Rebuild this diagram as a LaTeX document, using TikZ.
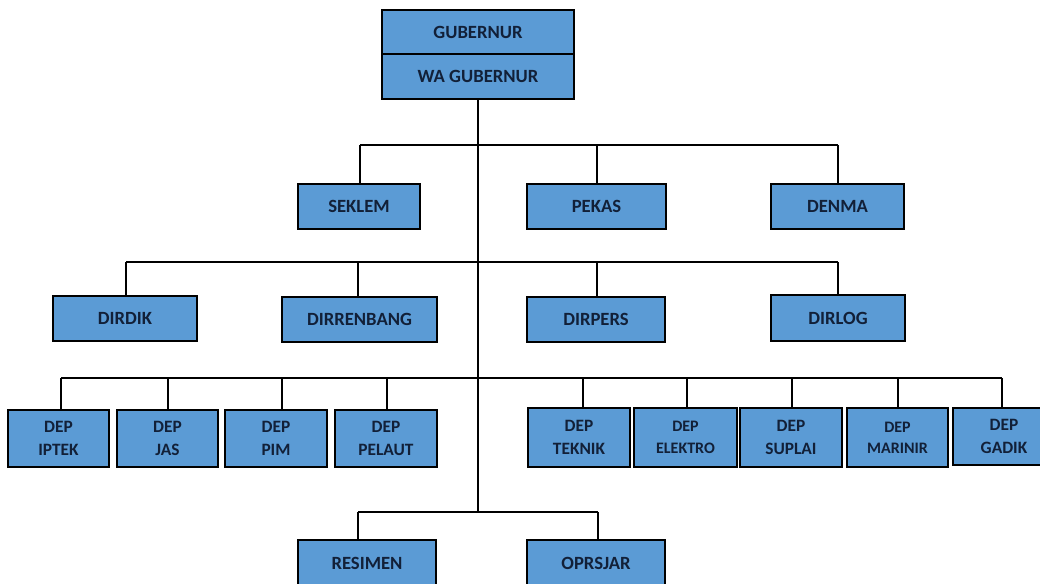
\documentclass[tikz,border=0pt]{standalone}
\usepackage{fontspec}
\setmainfont{Carlito}
\definecolor{boxblue}{RGB}{91,155,213}
\definecolor{txtnavy}{RGB}{18,32,56}
\tikzset{
  orgbox/.style={draw=black, line width=1.5pt, fill=boxblue, inner sep=0pt,
    text=txtnavy, font=\fontsize{14}{17}\selectfont\bfseries, align=center},
  deptxt/.style={font=\fontsize{13}{17}\selectfont\bfseries},
  smalltxt/.style={font=\fontsize{12}{16}\selectfont\bfseries},
  link/.style={draw=black, line width=1.5pt}
}
% \obox[style]{name}{x1}{y1}{x2}{y2}{text}
\newcommand\obox[7][]{%
  \node[orgbox, #1, minimum width={(#5-#3)*0.75pt}, minimum height={(#6-#4)*0.75pt}]
    (#2) at ({(#3+#5)/2},{(#4+#6)/2}) {#7};}
\begin{document}
\begin{tikzpicture}[x=0.75pt,y=-0.75pt]
\useasboundingbox (0,0) rectangle (1040,583);
\fill[white] (0,0) rectangle (1040,583);
% top
\obox{gub}{382}{10}{574}{54}{GUBERNUR}
\obox{wagub}{382}{54}{574}{99}{WA GUBERNUR}
% level 1
\obox{seklem}{298}{184}{420}{229}{SEKLEM}
\obox{pekas}{527}{184}{666}{229}{PEKAS}
\obox{denma}{771}{184}{904}{229}{DENMA}
% level 2
\obox{dirdik}{53}{296}{197}{341}{DIRDIK}
\obox{dirrenbang}{282}{297}{437}{342}{DIRRENBANG}
\obox{dirpers}{527}{297}{665}{342}{DIRPERS}
\obox{dirlog}{771}{295}{905}{341}{DIRLOG}
% level 3
\obox[deptxt]{iptek}{8}{410}{109}{467}{DEP\\IPTEK}
\obox[deptxt]{jas}{117}{410}{218}{467}{DEP\\JAS}
\obox[deptxt]{pim}{225}{410}{327}{467}{DEP\\PIM}
\obox[deptxt]{pelaut}{335}{410}{437}{467}{DEP\\PELAUT}
\obox[deptxt]{teknik}{528}{408}{630}{467}{DEP\\TEKNIK}
\obox[smalltxt]{elektro}{634}{408}{737}{467}{DEP\\ELEKTRO}
\obox[deptxt]{suplai}{740}{408}{842}{467}{DEP\\SUPLAI}
\obox[smalltxt]{marinir}{847}{408}{948}{467}{DEP\\MARINIR}
\obox[deptxt]{gadik}{953}{408}{1055}{465}{DEP\\GADIK}
% level 4 (boxes run past the bottom edge)
\obox{resimen}{298}{540}{436}{586}{RESIMEN}
\obox{oprsjar}{527}{540}{665}{586}{OPRSJAR}
% junction coordinates
\coordinate (trunk) at (478,512);
\coordinate (a1) at (360,145); \coordinate (a2) at (597,145); \coordinate (a3) at (838,145);
\coordinate (b1) at (126,262); \coordinate (b2) at (358,262); \coordinate (b3) at (597,262); \coordinate (b4) at (838,262);
\coordinate (c1) at (61,378); \coordinate (c2) at (168,378); \coordinate (c3) at (282,378); \coordinate (c4) at (387,378);
\coordinate (c5) at (583,378); \coordinate (c6) at (687,378); \coordinate (c7) at (792,378); \coordinate (c8) at (898,378); \coordinate (c9) at (1002,378);
\coordinate (d1) at (358,512); \coordinate (d2) at (598,512);
% connectors
\draw[link] (wagub.south) -- (trunk);
\draw[link] (a1) -- (a3);
\draw[link] (a1) -- (a1 |- seklem.north);
\draw[link] (a2) -- (a2 |- pekas.north);
\draw[link] (a3) -- (a3 |- denma.north);
\draw[link] (b1) -- (b4);
\draw[link] (b1) -- (b1 |- dirdik.north);
\draw[link] (b2) -- (b2 |- dirrenbang.north);
\draw[link] (b3) -- (b3 |- dirpers.north);
\draw[link] (b4) -- (b4 |- dirlog.north);
\draw[link] (c1) -- (c9);
\draw[link] (c1) -- (c1 |- iptek.north);
\draw[link] (c2) -- (c2 |- jas.north);
\draw[link] (c3) -- (c3 |- pim.north);
\draw[link] (c4) -- (c4 |- pelaut.north);
\draw[link] (c5) -- (c5 |- teknik.north);
\draw[link] (c6) -- (c6 |- elektro.north);
\draw[link] (c7) -- (c7 |- suplai.north);
\draw[link] (c8) -- (c8 |- marinir.north);
\draw[link] (c9) -- (c9 |- gadik.north);
\draw[link] (d1) -- (d2);
\draw[link] (d1) -- (d1 |- resimen.north);
\draw[link] (d2) -- (d2 |- oprsjar.north);
\end{tikzpicture}
\end{document}
